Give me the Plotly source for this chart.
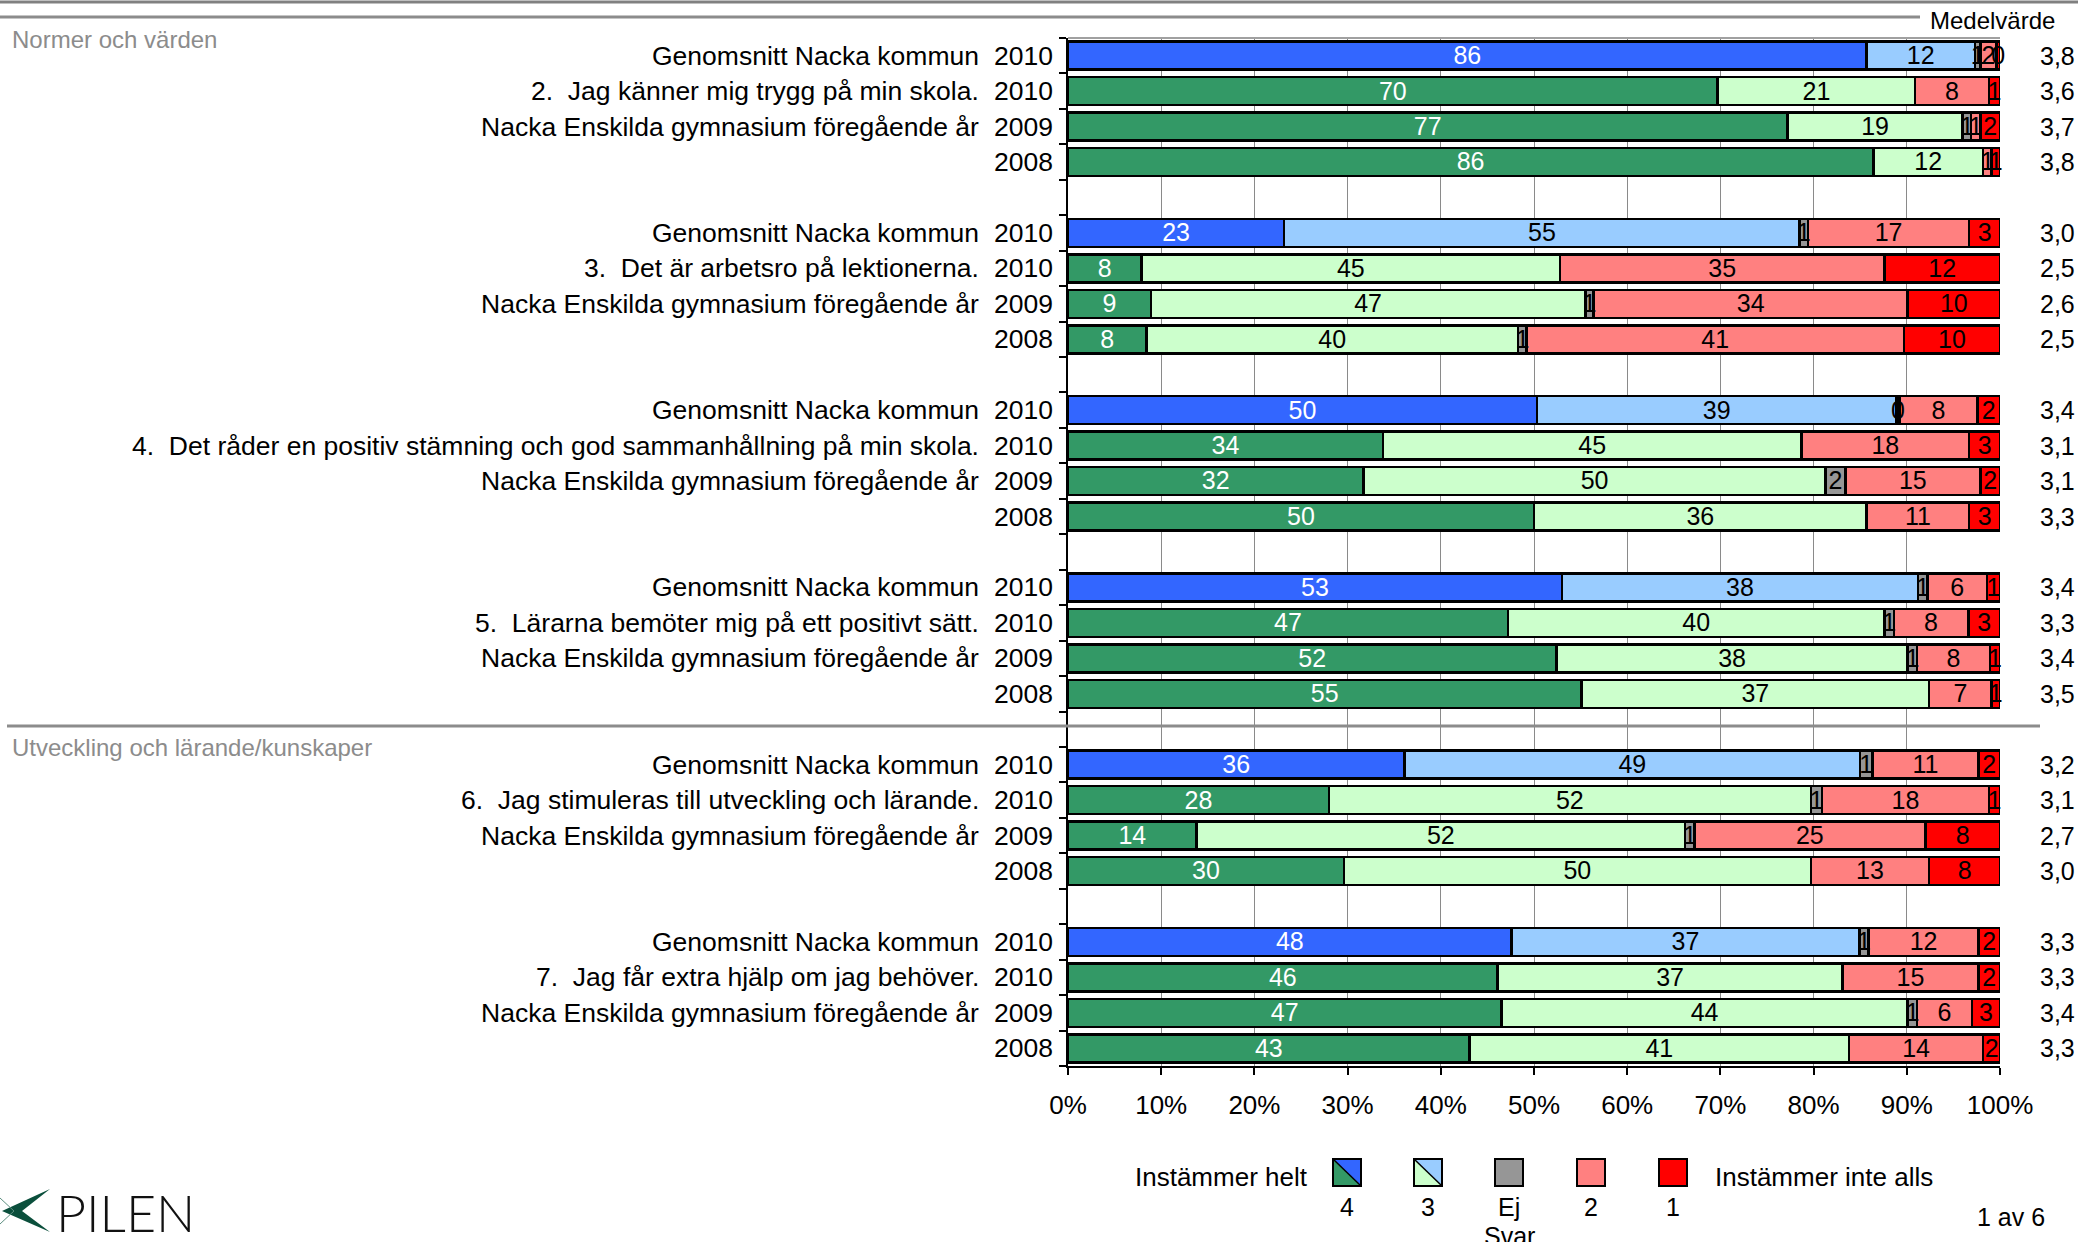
import plotly.graph_objects as go

W, H = 2078, 1242
ML, MR, MT, MB = 1068, 78, 38, 176
PW = W - ML - MR
PH = H - MT - MB


def px_x(p):
    return (p - ML) / PW


def px_y(p):
    return (H - MB - p) / PH


FONT = "Liberation Sans, Arial, sans-serif"

sections = ["Normer och värden", "Utveckling och lärande/kunskaper"]
questions = [
    "2.\u00a0 Jag känner mig trygg på min skola.",
    "3.\u00a0 Det är arbetsro på lektionerna.",
    "4.\u00a0 Det råder en positiv stämning och god sammanhållning på min skola.",
    "5.\u00a0 Lärarna bemöter mig på ett positivt sätt.",
    "6.\u00a0 Jag stimuleras till utveckling och lärande.",
    "7.\u00a0 Jag får extra hjälp om jag behöver.",
]
row_names = ["Genomsnitt Nacka kommun", None, "Nacka Enskilda gymnasium föregående år", ""]
row_years = ["2010", "2010", "2009", "2008"]

# percentages per row: [Nacka 2010, school 2010, 2009, 2008] for each question
p4 = [85.7, 69.7, 77.2, 86.4,
      23.2, 7.9, 8.9, 8.4,
      50.3, 33.8, 31.7, 50.0,
      53.0, 47.2, 52.4, 55.1,
      36.1, 28.0, 13.8, 29.6,
      47.6, 46.1, 46.5, 43.1]
p3 = [11.6, 21.2, 18.8, 11.8,
      55.3, 44.9, 46.6, 39.9,
      38.6, 44.9, 49.6, 35.7,
      38.2, 40.4, 37.7, 37.3,
      48.9, 51.7, 52.4, 50.1,
      37.3, 37.0, 43.6, 40.7]
pej = [0.6, 0.0, 0.9, 0.0,
       0.9, 0.0, 0.9, 0.9,
       0.3, 0.0, 2.1, 0.0,
       1.0, 1.0, 1.0, 0.0,
       1.3, 1.2, 1.0, 0.0,
       1.0, 0.0, 1.0, 0.0]
p2 = [1.7, 7.9, 1.0, 0.9,
      17.3, 34.8, 33.7, 40.5,
      8.4, 18.0, 14.5, 11.0,
      6.4, 8.0, 7.8, 6.7,
      11.4, 17.9, 24.8, 12.7,
      11.8, 14.6, 5.9, 14.4]
p1 = [0.4, 1.2, 2.1, 0.9,
      3.3, 12.4, 9.9, 10.3,
      2.4, 3.3, 2.1, 3.3,
      1.4, 3.4, 1.1, 0.9,
      2.3, 1.2, 8.0, 7.6,
      2.3, 2.3, 3.0, 1.8]
means = ["3,8", "3,6", "3,7", "3,8",
         "3,0", "2,5", "2,6", "2,5",
         "3,4", "3,1", "3,1", "3,3",
         "3,4", "3,3", "3,4", "3,5",
         "3,2", "3,1", "2,7", "3,0",
         "3,3", "3,3", "3,4", "3,3"]

x_ticks = [0, 10, 20, 30, 40, 50, 60, 70, 80, 90, 100]
x_ticktext = [f"{v}%" for v in x_ticks]

legend_codes = ["4", "3", "Ej", "2", "1"]

ypos = [(i // 4) * 5 + (i % 4) for i in range(len(p4))]
is_avg = [(i % 4) == 0 for i in range(len(p4))]

c4 = ["#3366FF" if a else "#339966" for a in is_avg]
c3 = ["#99CCFF" if a else "#CCFFCC" for a in is_avg]
series = [
    (p4, c4, "white"),
    (p3, c3, "black"),
    (pej, ["#969696"] * len(p4), "black"),
    (p2, ["#FF8080"] * len(p4), "black"),
    (p1, ["#FF0000"] * len(p4), "black"),
]

fig = go.Figure()
for vals, cols, tcol in series:
    fig.add_trace(go.Bar(
        x=vals, y=ypos, orientation="h",
        marker=dict(color=cols, line=dict(color="black", width=2.5)),
        width=0.79,
        showlegend=False, hoverinfo="skip",
    ))

# segment labels placed at the centre of each stacked segment
lab_x, lab_y, lab_t, lab_c = [], [], [], []
for i in range(len(p4)):
    start = 0.0
    for vals, cols, tcol in series:
        v = vals[i]
        if v > 0:
            lab_x.append(start + v / 2)
            lab_y.append(ypos[i] + 0.06)
            lab_t.append(str(int(v + 0.5)))
            lab_c.append(tcol)
        start += v
fig.add_trace(go.Scatter(
    x=lab_x, y=lab_y, mode="text", text=lab_t,
    textposition="middle center",
    textfont=dict(size=25, color=lab_c, family=FONT),
    cliponaxis=False, showlegend=False, hoverinfo="skip",
))

ann = []
for i, y in enumerate(ypos):
    k = i % 4
    name = questions[i // 4] if row_names[k] is None else row_names[k]
    if name:
        ann.append(dict(x=px_x(981), y=y, xref="paper", yref="y", text=name,
                        xanchor="right", yanchor="middle", showarrow=False,
                        font=dict(size=26.5, color="black", family=FONT)))
    ann.append(dict(x=px_x(1055), y=y, xref="paper", yref="y", text=row_years[k],
                    xanchor="right", yanchor="middle", showarrow=False,
                    font=dict(size=26.5, color="black", family=FONT)))
    ann.append(dict(x=px_x(2057), y=y, xref="paper", yref="y", text=means[i],
                    xanchor="center", yanchor="middle", showarrow=False,
                    font=dict(size=25, color="black", family=FONT)))

ann.append(dict(x=px_x(1992), y=px_y(20), xref="paper", yref="paper", text="Medelvärde",
                xanchor="center", yanchor="middle", showarrow=False,
                font=dict(size=24, color="black", family=FONT)))
ann.append(dict(x=px_x(10), y=px_y(40), xref="paper", yref="paper", text=sections[0],
                xanchor="left", yanchor="middle", showarrow=False,
                font=dict(size=24, color="#8c8c8c", family=FONT)))
ann.append(dict(x=px_x(10), y=px_y(747), xref="paper", yref="paper", text=sections[1],
                xanchor="left", yanchor="middle", showarrow=False,
                font=dict(size=24, color="#8c8c8c", family=FONT)))

shapes = []
# separator lines
shapes.append(dict(type="line", xref="paper", yref="paper", x0=px_x(0), x1=px_x(W),
                   y0=px_y(2), y1=px_y(2), line=dict(color="#808080", width=3)))
shapes.append(dict(type="line", xref="paper", yref="paper", x0=px_x(0), x1=px_x(1920),
                   y0=px_y(17), y1=px_y(17), line=dict(color="#8c8c8c", width=3)))
shapes.append(dict(type="line", xref="paper", yref="paper", x0=px_x(7), x1=px_x(2040),
                   y0=px_y(726), y1=px_y(726), line=dict(color="#8c8c8c", width=3)))
shapes.append(dict(type="line", xref="paper", yref="paper", x0=0, x1=1,
                   y0=1, y1=1, line=dict(color="#a0a0a0", width=2)))

# legend swatches
sw_x = [1333, 1414, 1495, 1577, 1659]
sw_top, sw_bot, sw_w = 1159, 1186, 28
solid = [None, None, "#969696", "#FF8080", "#FF0000"]
split = [("#339966", "#3366FF"), ("#CCFFCC", "#99CCFF"), None, None, None]
for j, x0 in enumerate(sw_x):
    x1 = x0 + sw_w
    X0, X1, Y0, Y1 = px_x(x0), px_x(x1), px_y(sw_top), px_y(sw_bot)
    if split[j]:
        lo, hi = split[j]
        shapes.append(dict(type="path", xref="paper", yref="paper",
                           path=f"M {X0},{Y0} L {X0},{Y1} L {X1},{Y1} Z",
                           fillcolor=lo, line=dict(width=0)))
        shapes.append(dict(type="path", xref="paper", yref="paper",
                           path=f"M {X0},{Y0} L {X1},{Y0} L {X1},{Y1} Z",
                           fillcolor=hi, line=dict(width=0)))
        shapes.append(dict(type="line", xref="paper", yref="paper",
                           x0=X0, y0=Y0, x1=X1, y1=Y1, line=dict(color="black", width=1.5)))
        shapes.append(dict(type="rect", xref="paper", yref="paper",
                           x0=X0, y0=Y0, x1=X1, y1=Y1, line=dict(color="black", width=2)))
    else:
        shapes.append(dict(type="rect", xref="paper", yref="paper",
                           x0=X0, y0=Y0, x1=X1, y1=Y1, fillcolor=solid[j],
                           line=dict(color="black", width=2)))
    ann.append(dict(x=px_x(x0 + sw_w / 2), y=px_y(1207), xref="paper", yref="paper",
                    text=legend_codes[j], xanchor="center", yanchor="middle", showarrow=False,
                    font=dict(size=25, color="black", family=FONT)))

ann.append(dict(x=px_x(sw_x[2] + sw_w / 2), y=px_y(1236), xref="paper", yref="paper",
                text="Svar", xanchor="center", yanchor="middle", showarrow=False,
                font=dict(size=25, color="black", family=FONT)))
ann.append(dict(x=px_x(1310), y=px_y(1177), xref="paper", yref="paper", text="Instämmer helt",
                xanchor="right", yanchor="middle", showarrow=False,
                font=dict(size=26, color="black", family=FONT)))
ann.append(dict(x=px_x(1713), y=px_y(1177), xref="paper", yref="paper", text="Instämmer inte alls",
                xanchor="left", yanchor="middle", showarrow=False,
                font=dict(size=26, color="black", family=FONT)))
ann.append(dict(x=px_x(2011), y=px_y(1217), xref="paper", yref="paper", text="1 av 6",
                xanchor="center", yanchor="middle", showarrow=False,
                font=dict(size=25, color="black", family=FONT)))
# logo
ann.append(dict(x=px_x(54), y=px_y(1212), xref="paper", yref="paper", text="PILEN",
                xanchor="left", yanchor="middle", showarrow=False,
                font=dict(size=52, color="#111111", family="Lato, Liberation Sans", weight=300)))
shapes.append(dict(type="path", xref="paper", yref="paper",
                   path=(f"M {px_x(2)},{px_y(1211)} L {px_x(50)},{px_y(1189)} "
                         f"L {px_x(22)},{px_y(1211)} L {px_x(50)},{px_y(1232)} Z"),
                   fillcolor="#0b4f3c", line=dict(width=0)))
shapes.append(dict(type="line", xref="paper", yref="paper",
                   x0=px_x(0), y0=px_y(1198), x1=px_x(14), y1=px_y(1211),
                   line=dict(color="#5d8f80", width=1)))
shapes.append(dict(type="line", xref="paper", yref="paper",
                   x0=px_x(0), y0=px_y(1224), x1=px_x(14), y1=px_y(1211),
                   line=dict(color="#5d8f80", width=1)))

fig.update_layout(
    width=W, height=H,
    margin=dict(l=ML, r=MR, t=MT, b=MB, pad=0),
    barmode="stack", bargap=0.2,
    plot_bgcolor="white", paper_bgcolor="white",
    font=dict(family=FONT, size=26, color="black"),
    annotations=ann, shapes=shapes,
    xaxis=dict(range=[0, 100], tickvals=x_ticks, ticktext=x_ticktext,
               showgrid=True, gridcolor="#8a8a8a", gridwidth=1,
               showline=True, linecolor="black", linewidth=2,
               ticks="outside", ticklen=7, tickcolor="black", tickwidth=1.5,
               tickfont=dict(size=26, family=FONT, color="black"),
               ticklabelstandoff=8, zeroline=False, fixedrange=True),
    yaxis=dict(range=[28.5, -0.5], tickvals=[i - 0.5 for i in range(30)],
               showticklabels=False, showgrid=False, zeroline=False,
               showline=True, linecolor="black", linewidth=2,
               ticks="outside", ticklen=7, tickcolor="black", tickwidth=1.5,
               fixedrange=True),
)

fig.write_html(
    "out.html",
    config={"displayModeBar": False},
    post_script="document.body.style.margin='0';document.documentElement.style.overflow='hidden';",
)
